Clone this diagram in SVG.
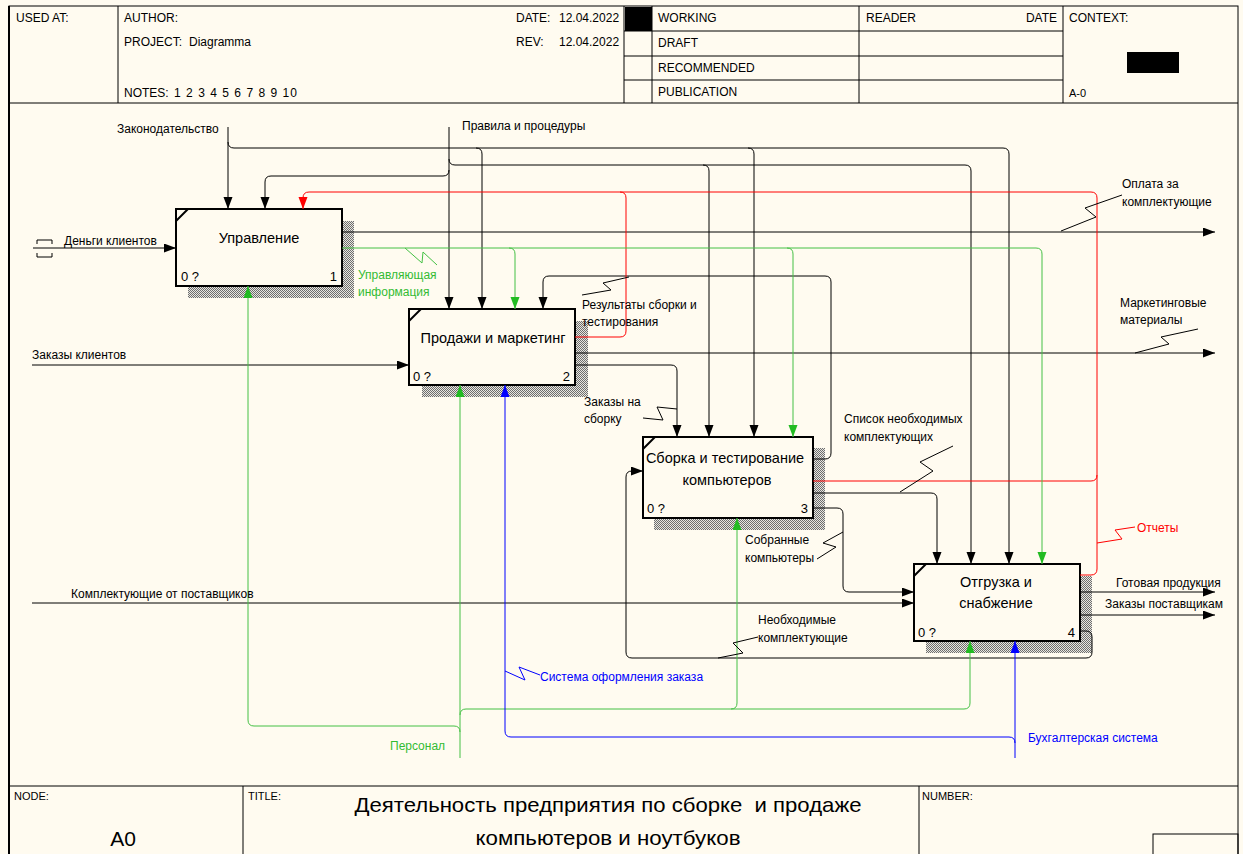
<svg xmlns="http://www.w3.org/2000/svg" width="1243" height="854" viewBox="0 0 1243 854">
<style>
text{font-family:"Liberation Sans",Arial,sans-serif;font-size:12px;fill:#000}
.sm{font-size:11px}
.bt{font-size:14.5px;text-anchor:middle}
.bn{font-size:13px}
.tt{font-size:21px;text-anchor:middle}
.nd{font-size:21px;text-anchor:middle}
.g{fill:#33bb33}
.b{fill:#0000ff}
.r{fill:#ff0000}
.frame{fill:none;stroke:#000;stroke-width:1}
.box{fill:#fffbf0;stroke:#000;stroke-width:2}
.sh{fill:url(#hatch)}
.k{fill:none;stroke:#000;stroke-width:1}
.gr{fill:none;stroke:#44c044;stroke-width:1}
.bl{fill:none;stroke:#0000ff;stroke-width:1}
.rd{fill:none;stroke:#ff0000;stroke-width:1}
.ak{marker-end:url(#mk)}
.ag{marker-end:url(#mg)}
.ab{marker-end:url(#mb)}
.ar{marker-end:url(#mr)}
</style>
<defs>
<pattern id="hatch" width="2" height="2" patternUnits="userSpaceOnUse">
<rect width="2" height="2" fill="#e8e6e0"/>
<rect width="1" height="1" fill="#6e6e6e"/>
<rect x="1" y="1" width="1" height="1" fill="#6e6e6e"/>
</pattern>
<marker id="mk" markerUnits="userSpaceOnUse" markerWidth="12" markerHeight="10" refX="12" refY="4.5" orient="auto"><path d="M0,0 L12,4.5 L0,9 z" fill="#000"/></marker>
<marker id="mg" markerUnits="userSpaceOnUse" markerWidth="12" markerHeight="10" refX="12" refY="4.5" orient="auto"><path d="M0,0 L12,4.5 L0,9 z" fill="#22bb22"/></marker>
<marker id="mb" markerUnits="userSpaceOnUse" markerWidth="12" markerHeight="10" refX="12" refY="4.5" orient="auto"><path d="M0,0 L12,4.5 L0,9 z" fill="#0000ff"/></marker>
<marker id="mr" markerUnits="userSpaceOnUse" markerWidth="12" markerHeight="10" refX="12" refY="4.5" orient="auto"><path d="M0,0 L12,4.5 L0,9 z" fill="#ff0000"/></marker>
</defs>
<rect width="1243" height="854" fill="#fffbf0"/>
<g id="frame">
<rect x="9" y="6" width="1229" height="852" class="frame"/>
<line x1="9" y1="6" x2="9" y2="854" stroke="#000" stroke-width="2"/>
<line x1="9" y1="103" x2="1238" y2="103" class="frame"/>
<line x1="118" y1="6" x2="118" y2="103" class="frame"/>
<line x1="624" y1="6" x2="624" y2="103" class="frame"/>
<line x1="652" y1="6" x2="652" y2="103" class="frame"/>
<line x1="859" y1="6" x2="859" y2="103" class="frame"/>
<line x1="1063" y1="6" x2="1063" y2="103" class="frame"/>
<line x1="624" y1="31" x2="1063" y2="31" class="frame"/>
<line x1="624" y1="56" x2="1063" y2="56" class="frame"/>
<line x1="624" y1="80" x2="1063" y2="80" class="frame"/>
<rect x="625" y="7" width="27" height="24" fill="#000"/>
<rect x="1127" y="52" width="52" height="21" fill="#000"/>
<text x="16" y="22">USED AT:</text>
<text x="124" y="22">AUTHOR:</text>
<text x="124" y="46">PROJECT:</text>
<text x="189" y="46">Diagramma</text>
<text x="124" y="97">NOTES:</text>
<text x="174" y="97" textLength="123" lengthAdjust="spacing">1 2 3 4 5 6 7 8 9 10</text>
<text x="516" y="22">DATE:</text>
<text x="559" y="22">12.04.2022</text>
<text x="516" y="46">REV:</text>
<text x="559" y="46">12.04.2022</text>
<text x="658" y="22">WORKING</text>
<text x="658" y="47">DRAFT</text>
<text x="658" y="72">RECOMMENDED</text>
<text x="658" y="96">PUBLICATION</text>
<text x="866" y="22">READER</text>
<text x="1057" y="22" text-anchor="end">DATE</text>
<text x="1069" y="22">CONTEXT:</text>
<text x="1069" y="97" class="sm">A-0</text>
<line x1="9" y1="786" x2="1238" y2="786" class="frame"/>
<line x1="243" y1="786" x2="243" y2="854" class="frame"/>
<line x1="919" y1="786" x2="919" y2="854" class="frame"/>
<rect x="1153" y="834" width="85" height="22" class="frame"/>
<text x="14" y="800" class="sm">NODE:</text>
<text x="248" y="800" class="sm">TITLE:</text>
<text x="922" y="800" class="sm">NUMBER:</text>
<text x="123" y="846" class="nd">A0</text>
<text x="608" y="812" class="tt" xml:space="preserve" textLength="507" lengthAdjust="spacingAndGlyphs">Деятельность предприятия по сборке  и продаже</text>
<text x="608" y="845" class="tt" textLength="265" lengthAdjust="spacingAndGlyphs">компьютеров и ноутбуков</text>
</g>
<g id="node1">
<rect x="188" y="221" width="166" height="77" class="sh"/>
<rect x="176" y="209" width="166" height="77" class="box"/>
<line x1="176" y1="221" x2="188" y2="209" stroke="#000" stroke-width="2"/>
<text x="259" y="243" class="bt">Управление</text>
<text x="181" y="281" class="bn">0 ?</text>
<text x="337" y="281" class="bn" text-anchor="end">1</text>
</g>
<g id="node2">
<rect x="422" y="321" width="166" height="76" class="sh"/>
<rect x="409" y="309" width="166" height="76" class="box"/>
<line x1="409" y1="321" x2="421" y2="309" stroke="#000" stroke-width="2"/>
<text x="493" y="343" class="bt">Продажи и маркетинг</text>
<text x="413" y="381" class="bn">0 ?</text>
<text x="570" y="381" class="bn" text-anchor="end">2</text>
</g>
<g id="node3">
<rect x="654" y="448" width="171" height="82" class="sh"/>
<rect x="643" y="437" width="170" height="81" class="box"/>
<line x1="643" y1="449" x2="655" y2="437" stroke="#000" stroke-width="2"/>
<text x="725" y="463" class="bt">Сборка и тестирование</text>
<text x="727" y="485" class="bt">компьютеров</text>
<text x="647" y="513" class="bn">0 ?</text>
<text x="808" y="513" class="bn" text-anchor="end">3</text>
</g>
<g id="node4">
<rect x="926" y="576" width="166" height="77" class="sh"/>
<rect x="914" y="564" width="166" height="77" class="box"/>
<line x1="914" y1="576" x2="926" y2="564" stroke="#000" stroke-width="2"/>
<text x="996" y="587" class="bt">Отгрузка и</text>
<text x="996" y="608" class="bt">снабжение</text>
<text x="918" y="637" class="bn">0 ?</text>
<text x="1075" y="637" class="bn" text-anchor="end">4</text>
</g>
<g id="connectors">
<path class="k ak" d="M228,127 V209"/>
<path class="k ak" d="M228,142 Q228,148 234,148 H1003 Q1009,148 1009,154 V564"/>
<path class="k ak" d="M476,148 Q482,148 482,154 V309"/>
<path class="k ak" d="M748,148 Q754,148 754,154 V437"/>
<path class="k ak" d="M449,127 V309"/>
<path class="k ak" d="M449,159 Q449,165 455,165 H965 Q971,165 971,171 V564"/>
<path class="k ak" d="M703,165 Q709,165 709,171 V437"/>
<path class="k ak" d="M449,170 Q449,176 443,176 H271 Q265,176 265,182 V209"/>
<path class="k ak" d="M342,232 H1215"/>
<path class="k ak" d="M575,353 H1215"/>
<path class="k ak" d="M32,365 H409"/>
<path class="k ak" d="M33,248 H176"/>
<path class="k" d="M37,244 V240 H52 V244 M37,253 V257 H52 V253"/>
<path class="k ak" d="M32,603 H914"/>
<path class="k ak" d="M575,365 H671 Q677,365 677,371 V437"/>
<path class="k ak" d="M813,459 H825 Q831,459 831,453 V282 Q831,276 825,276 H549 Q543,276 543,282 V309"/>
<path class="k ak" d="M813,493 H931 Q937,493 937,499 V564"/>
<path class="k ak" d="M813,508 H837 Q843,508 843,514 V586 Q843,592 849,592 H914"/>
<path class="k ak" d="M1080,592 H1215"/>
<path class="k ak" d="M1080,615 H1215"/>
<path class="k ak" d="M1080,631 H1086 Q1092,631 1092,637 V652 Q1092,658 1086,658 H632 Q626,658 626,652 V477 Q626,471 632,471 H643"/>
<path class="rd ar" d="M1080,575 H1091 Q1097,575 1097,569 V198 Q1097,192 1091,192 H309 Q303,192 303,198 V209"/>
<path class="rd" d="M813,481 H1091 Q1097,481 1097,475"/>
<path class="rd" d="M575,337 H620 Q626,337 626,331 V198 Q626,192 620,192"/>
<path class="gr ag" d="M342,248 H1036 Q1042,248 1042,254 V564"/>
<path class="gr ag" d="M509,248 Q515,248 515,254 V309"/>
<path class="gr ag" d="M787,248 Q793,248 793,254 V437"/>
<path class="gr ag" d="M460,758 V385"/>
<path class="gr ag" d="M460,732 Q460,726 454,726 H254 Q248,726 248,720 V286"/>
<path class="gr ag" d="M460,715 Q460,709 466,709 H964 Q970,709 970,703 V641"/>
<path class="gr ag" d="M731,709 Q737,709 737,703 V518"/>
<path class="bl ab" d="M1015,758 V641"/>
<path class="bl ab" d="M1015,743 Q1015,737 1009,737 H511 Q505,737 505,731 V385"/>
<polyline class="gr" points="405,248 422,263 423,252 437,265"/>
<polyline class="k" points="1061,231 1096,217 1085,208 1122,195"/>
<polyline class="k" points="1135,353 1169,344 1161,337 1198,329"/>
<polyline class="k" points="582,295 611,290 603,283 629,277"/>
<polyline class="k" points="643,418 663,420 657,407 677,409"/>
<polyline class="k" points="900,492 933,471 920,462 953,446"/>
<polyline class="rd" points="1097,543 1122,539 1115,530 1135,527"/>
<polyline class="k" points="817,559 836,547 823,543 843,532"/>
<polyline class="k" points="718,658 743,653 733,643 758,637"/>
<polyline class="bl" points="505,671 525,680 519,667 540,675"/>
<text x="117" y="133">Законодательство</text>
<text x="462" y="130">Правила и процедуры</text>
<text x="64" y="245">Деньги клиентов</text>
<text x="358" y="279" class="g">Управляющая</text>
<text x="358" y="296" class="g">информация</text>
<text x="1122" y="188">Оплата за</text>
<text x="1122" y="206">комплектующие</text>
<text x="582" y="309">Результаты сборки и</text>
<text x="582" y="326">тестирования</text>
<text x="1120" y="307">Маркетинговые</text>
<text x="1120" y="324">материалы</text>
<text x="32" y="359">Заказы клиентов</text>
<text x="584" y="406">Заказы на</text>
<text x="584" y="423">сборку</text>
<text x="844" y="423">Список необходимых</text>
<text x="844" y="441">комплектующих</text>
<text x="1137" y="532" class="r">Отчеты</text>
<text x="745" y="544">Собранные</text>
<text x="745" y="562">компьютеры</text>
<text x="71" y="598">Комплектующие от поставщиков</text>
<text x="1116" y="587">Готовая продукция</text>
<text x="1105" y="608">Заказы поставщикам</text>
<text x="758" y="624">Необходимые</text>
<text x="758" y="642">комплектующие</text>
<text x="540" y="681" class="b">Система оформления заказа</text>
<text x="390" y="750" class="g">Персонал</text>
<text x="1028" y="742" class="b">Бухгалтерская система</text>
</g>
</svg>
